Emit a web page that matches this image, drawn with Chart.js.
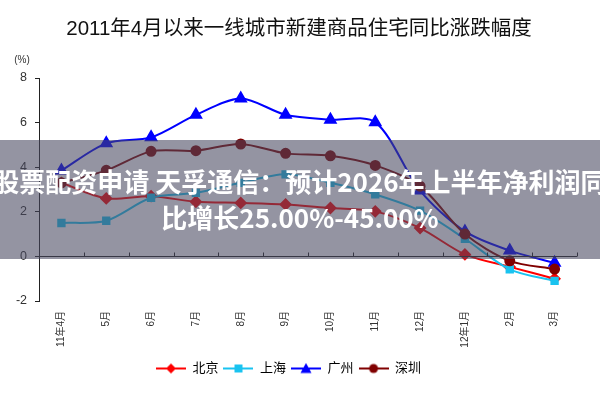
<!DOCTYPE html>
<html>
<head>
<meta charset="utf-8">
<script src="https://cdn.jsdelivr.net/npm/chart.js@4"></script>
<style>
  body { margin: 0; background: #fff; }
  #wrap { position: relative; width: 600px; height: 400px; overflow: hidden; }
  #banner {
    position: absolute; left: 0; top: 140px; width: 600px; height: 119px;
    background: rgba(70, 70, 95, 0.58);
    color: #fff; font-family: "Noto Sans CJK SC", sans-serif; font-weight: bold;
    font-size: 26px; text-align: center; white-space: nowrap;
  }
  #banner div { position: absolute; left: -100px; width: 800px; }
</style>
</head>
<body>
<div id="wrap">
  <canvas id="chart" width="600" height="400"></canvas>
  <div id="banner">
    <div style="top: 22px;">股票配资申请 天孚通信：预计2026年上半年净利润同</div>
    <div style="top: 58px;">比增长25.00%-45.00%</div>
  </div>
</div>
<script>
// categories and series (% year on year)
const months = ['11年4月', '5月', '6月', '7月', '8月', '9月', '10月', '11月', '12月', '12年1月', '2月', '3月'];
const beijing   = [3.3, 2.6, 2.7, 2.45, 2.4, 2.33, 2.17, 2.02, 1.27, 0.09, -0.47, -1.0];
const shanghai  = [1.5, 1.6, 2.63, 2.85, 3.3, 3.68, 3.3, 2.78, 2.05, 0.79, -0.58, -1.1];
const guangzhou = [3.85, 5.07, 5.34, 6.35, 7.08, 6.35, 6.13, 6.02, 2.95, 1.12, 0.26, -0.29];
const shenzhen  = [3.3, 3.86, 4.71, 4.74, 5.04, 4.62, 4.51, 4.08, 3.15, 1.0, -0.2, -0.57];

const title = '2011年4月以来一线城市新建商品住宅同比涨跌幅度';
const FONT = '"Liberation Sans", "Noto Sans CJK SC", sans-serif';

// legend icon: short line with the marker in the middle
function legendIcon(color, style) {
  const c = document.createElement('canvas');
  c.width = 30; c.height = 12;
  const g = c.getContext('2d');
  g.strokeStyle = color; g.fillStyle = color; g.lineWidth = 2;
  g.beginPath(); g.moveTo(0, 6); g.lineTo(30, 6); g.stroke();
  g.beginPath();
  if (style === 'rectRot') { g.moveTo(15, 1); g.lineTo(20, 6); g.lineTo(15, 11); g.lineTo(10, 6); }
  else if (style === 'rect') { g.rect(11, 2, 8, 8); }
  else if (style === 'triangle') { g.moveTo(15, 0.5); g.lineTo(20.5, 10.5); g.lineTo(9.5, 10.5); }
  else { g.arc(15, 6, 4.5, 0, Math.PI * 2); }
  g.fill();
  return c;
}

// title, unit label, and the x axis line drawn at 0 with small tick marks
const extras = {
  id: 'extras',
  afterDatasetsDraw(chart) {
    const { ctx, chartArea, scales } = chart;
    const y0 = Math.round(scales.y.getPixelForValue(0)) + 0.5;
    const step = (chartArea.right - chartArea.left) / months.length;
    ctx.save();
    ctx.strokeStyle = '#222';
    ctx.lineWidth = 1;
    ctx.beginPath();
    ctx.moveTo(chartArea.left, y0);
    ctx.lineTo(chartArea.right, y0);
    for (let i = 1; i <= months.length; i++) {
      const x = Math.round(chartArea.left + step * i) + 0.5;
      ctx.moveTo(x, y0);
      ctx.lineTo(x, y0 - 4);
    }
    ctx.stroke();
    ctx.textAlign = 'center';
    ctx.textBaseline = 'middle';
    ctx.fillStyle = '#111';
    ctx.font = '20.5px ' + FONT;
    ctx.fillText(title, 299, 29);
    ctx.font = '10px ' + FONT;
    ctx.fillStyle = '#333';
    ctx.fillText('(%)', 22, 60);
    ctx.restore();
  }
};

function series(label, data, color, style, radius, order) {
  return {
    label: label, data: data, borderColor: color, backgroundColor: color,
    borderWidth: 2, pointStyle: style, pointRadius: radius, pointHoverRadius: radius,
    tension: 0.3, order: order, icon: legendIcon(color, style)
  };
}

new Chart(document.getElementById('chart'), {
  type: 'line',
  data: {
    labels: months,
    datasets: [
      series('北京', beijing, '#ff0000', 'rectRot', 5, 3),
      series('上海', shanghai, '#19c3f0', 'rect', 4.5, 2),
      series('广州', guangzhou, '#0000ff', 'triangle', 6, 1),
      series('深圳', shenzhen, '#800000', 'circle', 4.5, 0)
    ]
  },
  options: {
    responsive: false,
    animation: false,
    layout: { padding: { top: 78, left: 0, right: 23, bottom: 15 } },
    plugins: {
      title: { display: false },
      legend: {
        position: 'bottom',
        labels: {
          usePointStyle: true,
          pointStyleWidth: 30,
          padding: 5,
          color: '#333',
          font: { family: FONT, size: 13 },
          generateLabels(chart) {
            return chart.data.datasets.map((ds, i) => ({
              text: ds.label, pointStyle: ds.icon, fillStyle: ds.borderColor,
              strokeStyle: ds.borderColor, lineWidth: 0, datasetIndex: i, hidden: false
            }));
          }
        }
      },
      tooltip: { enabled: false }
    },
    scales: {
      x: {
        offset: true,
        grid: { display: false, drawTicks: false },
        border: { display: false },
        ticks: {
          minRotation: 90, maxRotation: 90, padding: 10, autoSkip: false,
          color: '#333', font: { family: FONT, size: 10 }
        },
        afterFit(scale) { scale.height = 56; }
      },
      y: {
        min: -2, max: 8,
        ticks: { stepSize: 2, padding: 8, color: '#333', font: { family: FONT, size: 12.5 } },
        grid: { drawOnChartArea: false, drawTicks: true, tickLength: 4, color: '#222' },
        border: { display: true, color: '#222' },
        afterFit(scale) { scale.width = 39; }
      }
    }
  },
  plugins: [extras]
});
</script>
</body>
</html>
